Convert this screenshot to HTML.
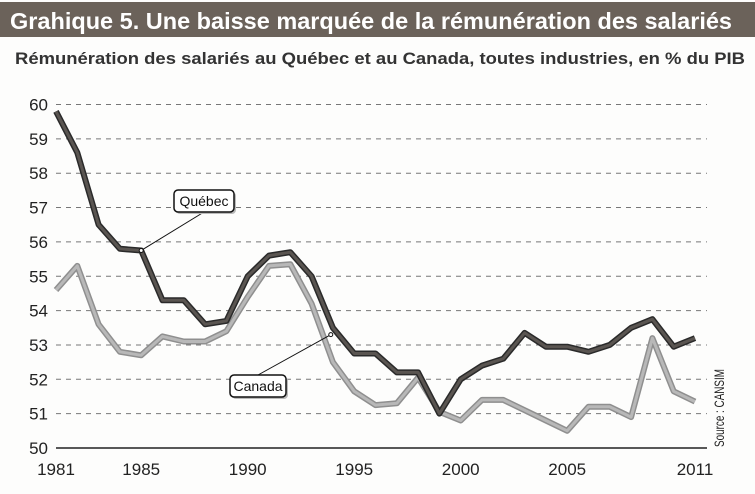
<!DOCTYPE html>
<html><head><meta charset="utf-8"><style>
body{margin:0;background:#fff;}
svg{display:block;font-family:"Liberation Sans",sans-serif;}
</style></head><body>
<svg id="chart" width="755" height="494" viewBox="0 0 755 494">
<rect x="0" y="0" width="755" height="494" fill="#fdfdfc"/>
<rect x="0" y="2" width="755" height="35" fill="#6b625a"/>
<text x="10" y="29" font-size="23" font-weight="bold" fill="#fff" textLength="722" lengthAdjust="spacingAndGlyphs">Grahique 5. Une baisse marquée de la rémunération des salariés</text>
<text x="15" y="64" font-size="17" font-weight="bold" fill="#333" textLength="730" lengthAdjust="spacingAndGlyphs">Rémunération des salariés au Québec et au Canada, toutes industries, en % du PIB</text>
<g id="grid"></g>
<g id="yticks"></g>
<g id="xticks"></g>
<g id="series"></g>
<text transform="translate(724,447) rotate(-90)" font-size="14" fill="#222" textLength="78" lengthAdjust="spacingAndGlyphs">Source : CANSIM</text>
</svg>
<script>
const years=[1981,1982,1983,1984,1985,1986,1987,1988,1989,1990,1991,1992,1993,1994,1995,1996,1997,1998,1999,2000,2001,2002,2003,2004,2005,2006,2007,2008,2009,2010,2011];
const quebec=[59.8,58.6,56.5,55.8,55.75,54.3,54.3,53.6,53.7,55.0,55.6,55.7,55.0,53.5,52.75,52.75,52.2,52.2,51.0,52.0,52.4,52.6,53.35,52.95,52.95,52.8,53.0,53.5,53.75,52.95,53.2];
const canada=[54.6,55.3,53.6,52.8,52.7,53.25,53.1,53.1,53.4,54.4,55.3,55.35,54.2,52.5,51.65,51.25,51.3,52.05,51.05,50.8,51.4,51.4,51.1,50.8,50.5,51.2,51.2,50.9,53.2,51.65,51.35];
const yTicks=[50,51,52,53,54,55,56,57,58,59,60];
const xTickLabels=[1981,1985,1990,1995,2000,2005,2011];
const NS="http://www.w3.org/2000/svg";
const X=v=>56+(v-1981)*(695-56)/30;
const Y=v=>448-(v-50)*34.35;
function mk(tag,attrs,parent){const e=document.createElementNS(NS,tag);for(const k in attrs)e.setAttribute(k,attrs[k]);parent.appendChild(e);return e;}
const grid=document.getElementById('grid'),yt=document.getElementById('yticks'),xt=document.getElementById('xticks'),ser=document.getElementById('series');
yTicks.forEach(t=>{
  if(t>50){const l=mk('line',{x1:56,x2:707,y1:Y(t),y2:Y(t),stroke:'#777','stroke-width':1,'stroke-dasharray':'5,5'},grid);
  
  }
  const tx=mk('text',{x:48,y:Y(t)+6,'font-size':17,fill:'#222','text-anchor':'end'},yt);tx.textContent=t;
  
  
});
const ax=mk('line',{x1:56,x2:707,y1:Y(50),y2:Y(50),stroke:'#222','stroke-width':1.5},grid);


xTickLabels.forEach(t=>{const tx=mk('text',{x:X(t),y:475,'font-size':17,fill:'#222','text-anchor':'middle'},xt);tx.textContent=t;
  
  });
function line(vals,outer,inner,name){
  const d=vals.map((v,i)=>(i?'L':'M')+X(years[i]).toFixed(1)+','+Y(v).toFixed(1)).join('');
  const g=mk('g',{},ser);
  
  
  mk('path',{d:d,fill:'none',stroke:outer,'stroke-width':6,'stroke-linejoin':'round'},g);
  mk('path',{d:d,fill:'none',stroke:inner,'stroke-width':3,'stroke-linejoin':'round'},g);
}
line(canada,'#8f8f8f','#b8b8b8','canada-line');
line(quebec,'#2a2a2a','#5a5551','quebec-line');
function label(txt,bx,by,w,px,py,name){
  const g=mk('g',{},ser);
  
  
  mk('line',{x1:bx+w/2,y1:by+(py>by?22:0),x2:px,y2:py,stroke:'#111','stroke-width':1},g);
  mk('circle',{cx:px,cy:py,r:2,fill:'#fff',stroke:'#111'},g);
  mk('rect',{x:bx+2,y:by+2,width:w,height:22,rx:4,fill:'#bbb'},g);
  mk('rect',{x:bx,y:by,width:w,height:22,rx:4,fill:'#fff',stroke:'#111','stroke-width':1.5},g);
  const t=mk('text',{x:bx+w/2,y:by+16,'font-size':14,'text-anchor':'middle',fill:'#111'},g);t.textContent=txt;
}
label('Québec',174,190,60,X(1985),Y(55.75),'quebec-label');
label('Canada',230,375,56,X(1993.9),Y(53.3),'canada-label');
</script>
</body></html>
